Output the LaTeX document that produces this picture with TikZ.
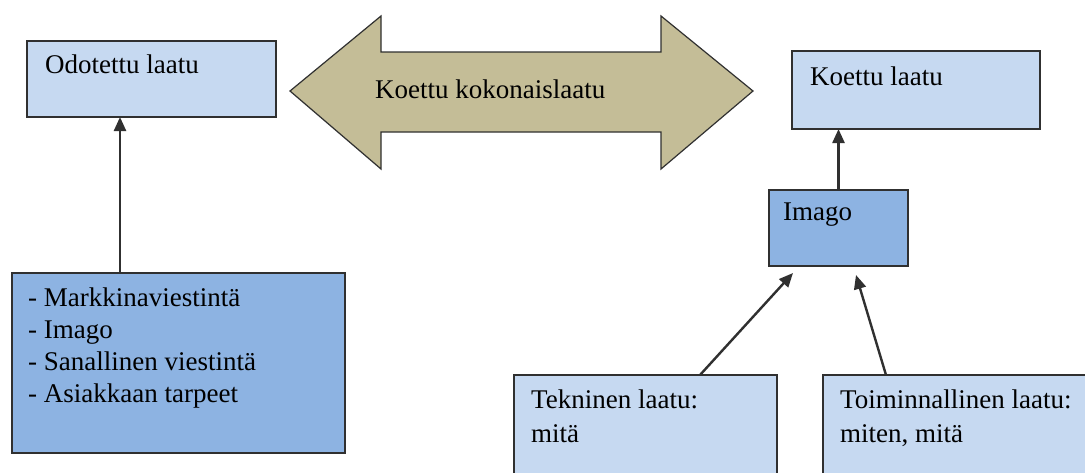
\documentclass[tikz,border=0pt]{standalone}
\usepackage{fontspec}
\setmainfont{Liberation Serif}
\usetikzlibrary{arrows.meta,calc}
\definecolor{lightbox}{HTML}{C6D9F1}
\definecolor{darkbox}{HTML}{8DB3E2}
\definecolor{tanarrow}{HTML}{C4BD97}
\definecolor{edge}{HTML}{303030}
\tikzset{
  box/.style={draw=edge, line width=1.5pt, anchor=north west, inner sep=0pt, outer sep=0pt},
  lbl/.style={inner sep=0pt, anchor=base west, font=\fontsize{27}{33}\selectfont, align=left},
  mlbl/.style={inner sep=0pt, anchor=north west, align=left},
  conn/.style={draw=edge, line width=2.4pt, -{Triangle[length=14pt,width=12pt]}}
}
\begin{document}
\begin{tikzpicture}[x=1pt,y=-1pt]
\clip (0,0) rectangle (1085,472);
\fill[white] (0,0) rectangle (1085,472);

% double arrow
\draw[fill=tanarrow, draw=edge, line width=1.2pt, line join=miter]
  (290,91) -- (381,16) -- (381,52) -- (661,52) -- (661,16) -- (753,91)
  -- (661,169) -- (661,132) -- (381,132) -- (381,169) -- cycle;
\node[lbl] (koko) at (375,98) {Koettu kokonaislaatu};

% boxes
\node[box, fill=lightbox, minimum width=249pt, minimum height=76pt] (odot) at (27,41) {};
\node[lbl] (odott) at (45,73) {Odotettu laatu};

\node[box, fill=lightbox, minimum width=248pt, minimum height=78pt] (koet) at (792,51) {};
\node[lbl] (koett) at (810,85) {Koettu laatu};

\node[box, fill=darkbox, minimum width=139pt, minimum height=76pt] (imago) at (769,190) {};
\node[lbl] (imagot) at (783,220) {Imago};

\node[box, fill=darkbox, minimum width=333pt, minimum height=180pt] (bul) at (12,273) {};
\node[mlbl, font=\fontsize{27}{32}\selectfont] (bult) at (28,287.5)
  {- Markkinaviestintä\\- Imago\\- Sanallinen viestintä\\- Asiakkaan tarpeet};

\node[box, fill=lightbox, minimum width=263pt, minimum height=120pt] (tek) at (514,375) {};
\node[mlbl, font=\fontsize{27}{34}\selectfont] (tekt) at (531,389.5) {Tekninen laatu:\\mitä};

\node[box, fill=lightbox, minimum width=280pt, minimum height=120pt] (toi) at (823,375) {};
\node[mlbl, font=\fontsize{27}{34}\selectfont] (toit) at (840,389.5) {Toiminnallinen laatu:\\miten, mitä};

% connectors
\coordinate (bulfrom) at ($(bul.north west)+(108,0)$);
\draw[conn] (bulfrom) -- (bulfrom |- odot.south);
\draw[conn] (imago.north) -- (imago.north |- koet.south);
\coordinate (tekfrom) at ($(tek.north west)+(186,0)$);
\coordinate (tekto) at ($(imago.south west)+(24,7)$);
\draw[conn] (tekfrom) -- (tekto);
\coordinate (toifrom) at ($(toi.north west)+(63,0)$);
\coordinate (toito) at ($(imago.south west)+(87,9)$);
\draw[conn] (toifrom) -- (toito);
\end{tikzpicture}
\end{document}
